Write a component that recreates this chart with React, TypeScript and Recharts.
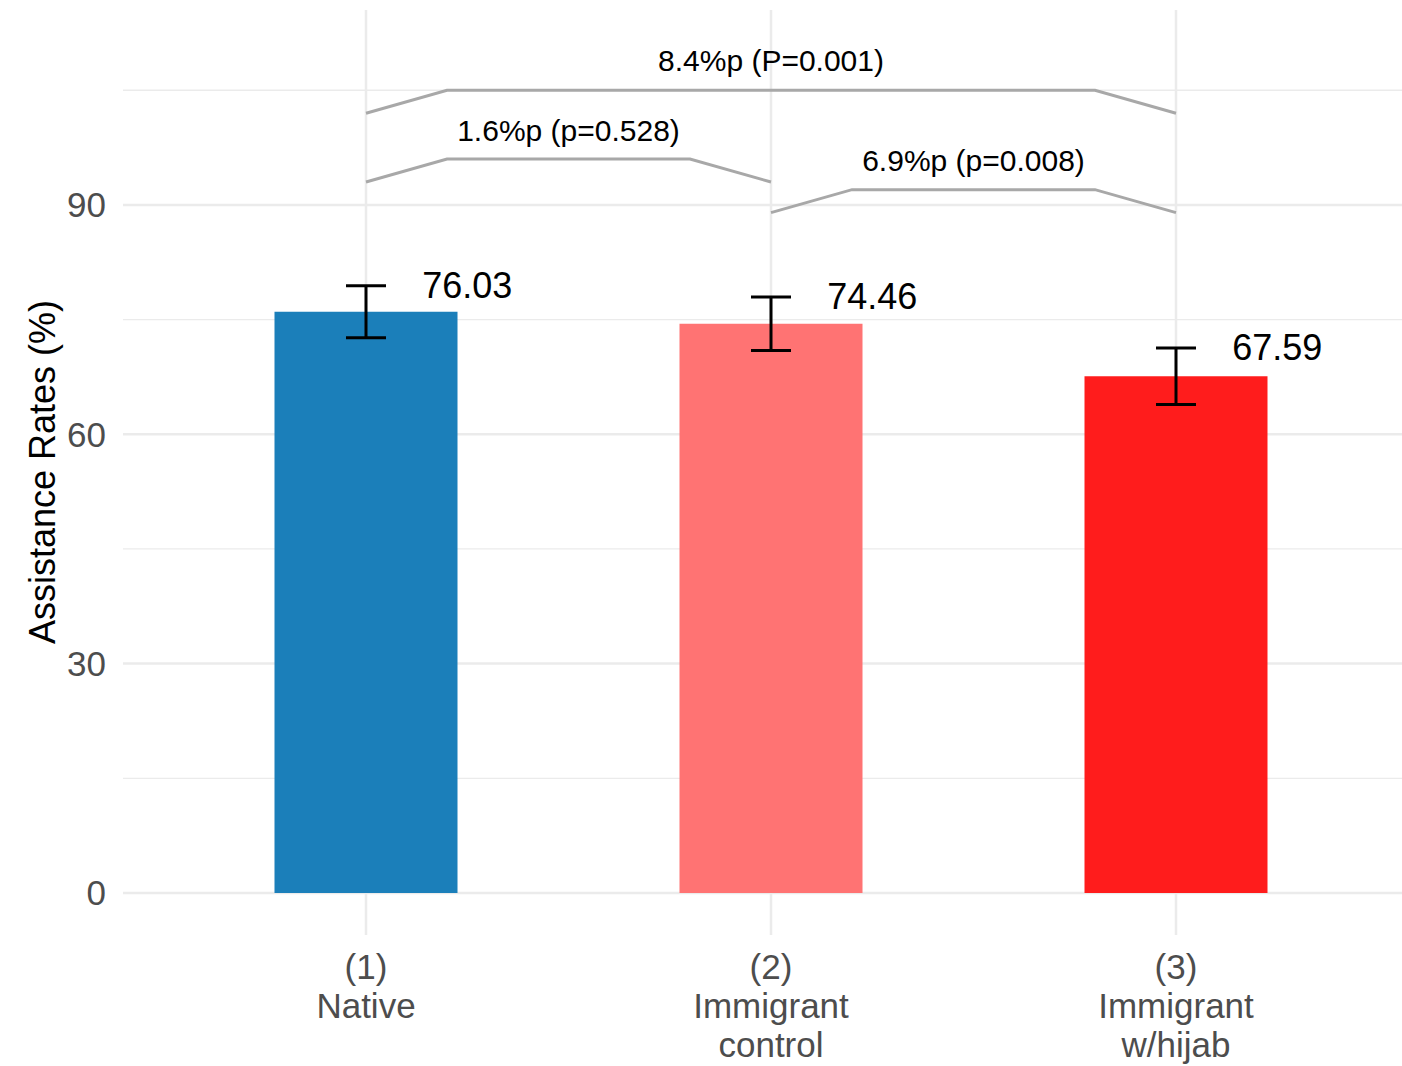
import {
  ComposedChart, Bar, Cell, ErrorBar, Line, Scatter, XAxis, YAxis, CartesianGrid,
} from 'recharts'

// groups and estimates
const groups = ['(1)\nNative', '(2)\nImmigrant\ncontrol', '(3)\nImmigrant\nw/hijab']
const rates = [76.03, 74.46, 67.59]
const ciHalf = [3.4, 3.5, 3.7]
const barColors = ['#1b7fba', '#ff7373', '#ff1c1c']

// axes
const yTicks = [0, 30, 60, 90]
const yMinor = [15, 45, 75, 105]
const yDomain = [-5.5, 115.5]
const xPositions = [1, 2, 3]
const xDomain = [0.4, 3.6]

// significance brackets (x in category units, 1..3)
const bracket12X = [1, 1.2, 1.8, 2]
const bracket12Y = [93, 96, 96, 93]
const bracket23X = [2, 2.2, 2.8, 3]
const bracket23Y = [89, 92, 92, 89]
const bracket13X = [1, 1.2, 2.8, 3]
const bracket13Y = [102, 105, 105, 102]
const bracketTexts = ['1.6%p (p=0.528)', '6.9%p (p=0.008)', '8.4%p (P=0.001)']
const bracketTextX = [1.5, 2.5, 2]
const bracketTextY = [99.8, 95.8, 108.9]

const FONT = '"Liberation Sans", Arial, Helvetica, sans-serif'

const barData = groups.map((name, i) => ({ name, rate: rates[i], err: ciHalf[i] }))
const toPts = (xs: number[], ys: number[]) => xs.map((x, i) => ({ x, y: ys[i] }))
const valueLabels = rates.map((v, i) => ({ x: i + 1.25, y: v + ciHalf[i], text: v.toFixed(2) }))
const bracketLabels = bracketTexts.map((t, i) => ({ x: bracketTextX[i], y: bracketTextY[i], text: t }))

// grid placement uses the same linear maps as the axes
const rowsAt = (vals: number[]) => ({ offset }: any) =>
  vals.map(v => offset.top + ((yDomain[1] - v) / (yDomain[1] - yDomain[0])) * offset.height)
const colsAt = (vals: number[]) => ({ offset }: any) =>
  vals.map(v => offset.left + ((v - xDomain[0]) / (xDomain[1] - xDomain[0])) * offset.width)

function XTick(props: any) {
  const { x, y, payload } = props
  const lines = String(payload.value).split('\n')
  return (
    <g>
      {lines.map((l, i) => (
        <text key={i} x={x} y={y + 42 + i * 39} textAnchor="middle"
          fill="#4d4d4d" fontSize={35} fontFamily={FONT}>{l}</text>
      ))}
    </g>
  )
}

const textShape = (size: number) => (props: any) => (
  <text x={props.cx} y={props.cy} textAnchor="middle" dominantBaseline="central"
    fontSize={size} fontFamily={FONT} fill="#000">{props.payload.text}</text>
)

export default function App() {
  return (
    <div style={{ position: 'absolute', left: 0, top: 0, width: 1402, height: 1066, overflow: 'hidden', background: '#fff' }}>
      <ComposedChart width={1420} height={1066} data={barData}
        margin={{ top: 10, right: 1, bottom: 0, left: 0 }}>
        <CartesianGrid stroke="#ebebeb" strokeWidth={1.3} vertical={false}
          horizontalCoordinatesGenerator={rowsAt(yMinor)} />
        <CartesianGrid stroke="#ebebeb" strokeWidth={2.5}
          horizontalCoordinatesGenerator={rowsAt(yTicks)}
          verticalCoordinatesGenerator={colsAt(xPositions)} />
        <XAxis dataKey="name" height={131} padding={{ left: 40.5, right: 40.5 }}
          axisLine={false} tickLine={false} tickSize={0} interval={0} tick={<XTick />} />
        <XAxis xAxisId="num" dataKey="x" type="number" domain={xDomain}
          allowDataOverflow hide />
        <YAxis domain={yDomain} ticks={yTicks} allowDataOverflow width={123}
          axisLine={false} tickLine={false} tickSize={0} tickMargin={17}
          tick={{ fill: '#4d4d4d', fontSize: 35, fontFamily: FONT }}
          label={{
            value: 'Assistance Rates (%)', angle: -90, position: 'insideLeft',
            content: () => (
              <text x={55} y={472} transform="rotate(-90 55 472)" textAnchor="middle"
                fontSize={36} fontFamily={FONT} fill="#000">Assistance Rates (%)</text>
            ),
          }} />
        <Bar dataKey="rate" barSize={183} isAnimationActive={false}>
          {barData.map((d, i) => <Cell key={d.name} fill={barColors[i]} />)}
          <ErrorBar dataKey="err" width={20} strokeWidth={3} stroke="#000" direction="y" />
        </Bar>
        <Line xAxisId="num" data={toPts(bracket12X, bracket12Y)} dataKey="y" stroke="#a8a8a8"
          strokeWidth={3} dot={false} activeDot={false} isAnimationActive={false} />
        <Line xAxisId="num" data={toPts(bracket23X, bracket23Y)} dataKey="y" stroke="#a8a8a8"
          strokeWidth={3} dot={false} activeDot={false} isAnimationActive={false} />
        <Line xAxisId="num" data={toPts(bracket13X, bracket13Y)} dataKey="y" stroke="#a8a8a8"
          strokeWidth={3} dot={false} activeDot={false} isAnimationActive={false} />
        <Scatter xAxisId="num" data={valueLabels} dataKey="y" shape={textShape(36)} isAnimationActive={false} />
        <Scatter xAxisId="num" data={bracketLabels} dataKey="y" shape={textShape(30)} isAnimationActive={false} />
      </ComposedChart>
    </div>
  )
}
